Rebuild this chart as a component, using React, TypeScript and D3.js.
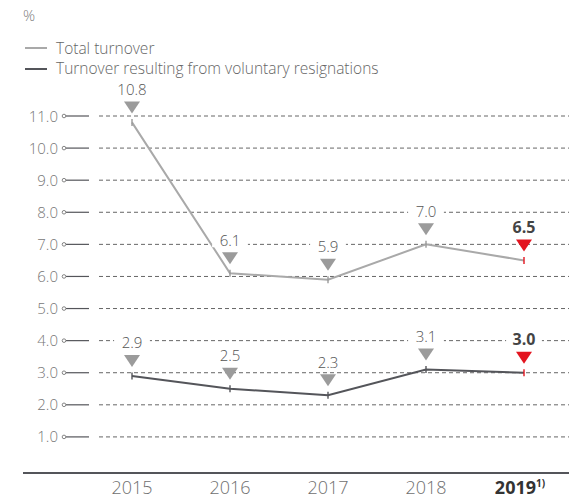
import React from 'react';
import * as d3 from 'd3';

const years = ['2015', '2016', '2017', '2018', '2019'];
const totalTurnover = [10.8, 6.1, 5.9, 7.0, 6.5];
const voluntaryTurnover = [2.9, 2.5, 2.3, 3.1, 3.0];
const yTicks = [1, 2, 3, 4, 5, 6, 7, 8, 9, 10, 11];
const legendLabels = ['Total turnover', 'Turnover resulting from voluntary resignations'];
const unitLabel = '%';

const W = 569;
const H = 497;
const FONT = '"Open Sans", "DejaVu Sans", Arial, sans-serif';
const LIGHT = '#a9a9a9';
const DARK = '#54555a';
const RED = '#e3141f';

export default function App() {
  const x = d3.scalePoint<string>().domain(years).range([132, 524]);
  const y = d3.scaleLinear().domain([0, 11]).range([469, 116]);
  const line = d3
    .line<number>()
    .x((_, i) => x(years[i]) as number)
    .y((d) => y(d));

  const series = [
    { values: totalTurnover, color: LIGHT, tick: '#999' },
    { values: voluntaryTurnover, color: DARK, tick: DARK },
  ];

  const last = years.length - 1;

  return (
    <svg
      width={W}
      height={H}
      style={{ position: 'absolute', left: 0, top: 0, background: '#fff' }}
      fontFamily={FONT}
      fontWeight={300}
    >
      <text x={23} y={21} fontSize={15} fill="#808080">
        {unitLabel}
      </text>
      {legendLabels.map((l, i) => (
        <g key={l}>
          <line x1={25} x2={47} y1={48 + i * 21} y2={48 + i * 21} stroke={i === 0 ? LIGHT : DARK} strokeWidth={2} />
          <text x={56} y={53.5 + i * 20.5} fontSize={15.5} fill="#666">
            {l}
          </text>
        </g>
      ))}

      {/* y axis ticks and grid */}
      {yTicks.map((t) => (
        <g key={t}>
          <text x={58} y={y(t) + 5.5} fontSize={15} fill="#777" textAnchor="end">
            {t.toFixed(1)}
          </text>
          <line x1={66} x2={89} y1={y(t)} y2={y(t)} stroke={DARK} strokeWidth={1.2} />
          <circle cx={64} cy={y(t)} r={1.8} fill="#fff" stroke="#777" strokeWidth={0.9} />
          <line x1={99} x2={W} y1={y(t)} y2={y(t)} stroke="#666" strokeWidth={1} strokeDasharray="4 3" />
        </g>
      ))}

      {/* bottom axis */}
      <line x1={23} x2={W} y1={473} y2={473} stroke={DARK} strokeWidth={2} />
      {years.map((yr, i) => (
        <text
          key={yr}
          x={(x(yr) as number) + (i === last ? -4 : 0)}
          y={493.5}
          fontSize={18}
          fill={i === last ? '#333' : '#707070'}
          fontWeight={i === last ? 'bold' : 300}
          textAnchor="middle"
        >
          {yr}
          {i === last ? (
            <tspan fontSize={10} dy={-7}>
              1)
            </tspan>
          ) : null}
        </text>
      ))}

      {/* series */}
      {series.map((s, si) => (
        <g key={si}>
          <path d={line(s.values) || ''} fill="none" stroke={s.color} strokeWidth={2} />
          {s.values.map((v, i) => {
            const px = x(years[i]) as number;
            const py = y(v);
            const isLast = i === last;
            const tip = py - 9;
            const top = tip - 12;
            const label = v.toFixed(1);
            const lw = label.length * 8.6;
            return (
              <g key={i}>
                <line x1={px} x2={px} y1={py - 3.5} y2={py + 3.5} stroke={isLast ? RED : s.tick} strokeWidth={1.4} />
                <path
                  d={`M${px - 8},${top}L${px + 8},${top}L${px},${tip}Z`}
                  fill={isLast ? RED : '#9b9b9b'}
                />
                <rect x={px - lw / 2 - 5} y={top - 19} width={lw + 10} height={14} fill="#fff" />
                <text
                  x={px}
                  y={top - 6.5}
                  fontSize={isLast ? 16 : 15}
                  fontWeight={isLast ? 'bold' : 300}
                  fill={isLast ? '#444' : '#555'}
                  textAnchor="middle"
                >
                  {label}
                </text>
              </g>
            );
          })}
        </g>
      ))}
    </svg>
  );
}
